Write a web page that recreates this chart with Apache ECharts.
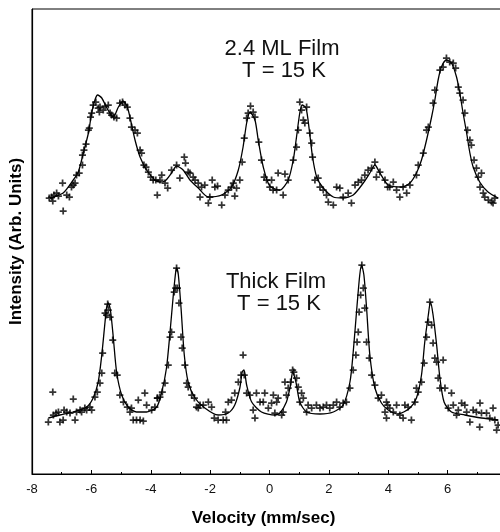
<!DOCTYPE html>
<html>
<head>
<meta charset="utf-8">
<script src="https://cdn.jsdelivr.net/npm/echarts@6/dist/echarts.min.js"></script>
<style>
  html, body { margin: 0; padding: 0; background: #fff; }
  #chart { width: 500px; height: 532px; }
</style>
</head>
<body>
<div id="chart"></div>
<script>
// velocity ticks (mm/sec)
const velTicks = [-8, -6, -4, -2, 0, 2, 4, 6, 8]

// 2.4 ML film, fitted curve [velocity, intensity]
const fitFilm = [
  [-7.39,276],[-6.95,281],[-6.61,294],[-6.44,302],[-6.27,321],[-6.10,341],[-5.99,361],[-5.88,374],
  [-5.79,379],[-5.65,376],[-5.48,366],[-5.26,357],[-5.09,367],[-4.93,373],[-4.79,367],[-4.68,354],
  [-4.53,334],[-4.36,317],[-4.14,304],[-3.86,294],[-3.70,292],[-3.52,293],[-3.30,301],[-3.13,308],
  [-2.91,304],[-2.68,294],[-2.40,286],[-2.06,277],[-1.61,279],[-1.28,287],[-1.05,304],[-0.89,327],
  [-0.77,351],[-0.66,362],[-0.49,354],[-0.38,334],[-0.21,307],[0.01,288],[0.35,284],[0.63,294],
  [0.80,314],[0.91,337],[1.02,361],[1.10,369],[1.23,366],[1.34,344],[1.45,317],[1.59,297],
  [1.81,286],[2.15,277],[2.48,276],[2.82,279],[3.16,291],[3.38,301],[3.55,309],[3.72,301],
  [4.00,289],[4.45,287],[4.73,291],[4.95,301],[5.12,314],[5.29,334],[5.46,357],[5.57,374],
  [5.68,394],[5.79,407],[5.96,414],[6.13,411],[6.30,397],[6.41,381],[6.52,361],[6.64,341],
  [6.75,321],[6.86,307],[7.08,292],[7.36,282],[7.70,276]
]

// 2.4 ML film, measured points
const ptsFilm = [
  [-7.42,276],[-7.34,277],[-7.26,279],[-7.30,273],[-7.17,281],[-7.11,278],[-6.97,291],[-6.95,263],
  [-6.83,279],[-6.74,277],[-6.67,287],[-6.61,289],[-6.55,291],[-6.50,299],[-6.41,301],[-6.30,309],
  [-6.30,319],[-6.25,324],[-6.18,330],[-6.10,344],[-6.07,346],[-6.03,357],[-5.99,361],[-5.94,369],
  [-5.85,372],[-5.77,366],[-5.71,367],[-5.73,362],[-5.60,364],[-5.54,368],[-5.43,369],[-5.37,361],
  [-5.32,359],[-5.24,357],[-5.15,356],[-5.04,371],[-4.95,372],[-4.87,369],[-4.79,367],[-4.70,356],
  [-4.65,347],[-4.53,344],[-4.45,341],[-4.36,324],[-4.31,321],[-4.23,309],[-4.16,307],[-4.08,302],
  [-4.00,297],[-3.92,294],[-3.83,294],[-3.78,279],
  [-3.69,294],[-3.63,299],[-3.52,291],[-3.43,286],[-3.30,304],[-3.13,309],[-3.02,296],[-2.87,317],
  [-2.83,311],[-2.74,302],[-2.68,301],[-2.57,297],[-2.51,294],[-2.40,291],[-2.29,287],[-2.34,277],
  [-2.18,289],[-2.06,271],[-2.01,277],[-1.93,294],[-1.84,287],[-1.75,288],[-1.61,269],[-1.50,279],
  [-1.39,284],[-1.28,287],[-1.22,291],[-1.17,278],[-1.11,286],[-1.00,294],[-0.92,312],[-0.85,336],
  [-0.77,356],[-0.72,361],[-0.64,368],[-0.55,362],[-0.49,357],[-0.36,332],[-0.27,314],[-0.18,297],
  [-0.10,294],[0.01,287],[0.12,284],
  [0.07,294],[0.24,284],[0.29,301],[0.46,279],[0.52,300],[0.63,294],[0.80,314],[0.91,327],
  [0.97,344],[1.02,372],[1.08,364],[1.14,354],[1.25,367],[1.19,351],[1.36,341],[1.42,331],
  [1.45,317],[1.53,294],[1.64,296],[1.70,287],[1.81,284],[1.92,279],[1.98,272],[2.15,269],
  [2.26,287],[2.37,286],[2.48,277],[2.65,281],[2.76,271],[2.88,289],[2.99,292],[3.10,294],
  [3.21,299],[3.32,304],[3.44,306],[3.55,312],[3.60,297],[3.72,302],[3.89,294],[3.98,287],
  [4.05,287],[4.17,292],[4.28,284],[4.39,277],[4.50,287],[4.62,281],[4.73,289],[4.95,299],
  [5.01,309],[5.18,321],[5.29,344],[5.35,347],[5.51,371],[5.57,384],[5.74,404],[5.85,407],
  [5.96,416],[6.07,412],[6.19,411],[6.27,406],[6.36,387],[6.41,381],[6.52,374],[6.58,361],
  [6.67,344],[6.75,334],[6.80,329],[6.89,314],[6.97,306],[7.03,297],[7.14,301],[7.09,287],
  [7.20,281],[7.25,277],[7.37,274],[7.48,272],[7.59,276],[7.53,271]
]

// thick film, fitted curve
const fitThick = [
  [-7.45,56],[-7.06,59],[-6.61,62],[-6.16,67],[-5.94,76],[-5.77,92],[-5.65,119],[-5.54,152],
  [-5.49,166],[-5.43,171],[-5.35,162],[-5.26,136],[-5.15,102],[-4.98,79],[-4.76,67],[-4.48,62],
  [-4.14,62],[-3.80,67],[-3.63,82],[-3.47,106],[-3.35,142],[-3.24,179],[-3.16,202],[-3.13,206],
  [-3.07,199],[-2.98,166],[-2.87,119],[-2.74,92],[-2.51,76],[-2.18,66],[-1.73,59],[-1.39,61],
  [-1.17,69],[-1.00,86],[-0.92,102],[-0.86,104],[-0.77,89],[-0.60,72],[-0.27,62],[0.18,59],
  [0.35,61],[0.57,72],[0.71,89],[0.78,102],[0.89,92],[1.02,72],[1.25,62],[1.70,60],
  [2.15,62],[2.48,69],[2.71,92],[2.82,122],[2.95,169],[3.04,199],[3.10,209],[3.18,199],
  [3.27,166],[3.38,119],[3.55,86],[3.77,71],[4.00,64],[4.33,60],[4.73,66],[4.95,76],
  [5.12,99],[5.23,132],[5.35,159],[5.42,172],[5.51,159],[5.63,129],[5.74,96],[5.88,72],
  [6.13,62],[6.58,59],[7.14,56],[7.70,54]
]

// thick film, measured points
const ptsThick = [
  [-7.45,52],[-7.30,82],[-7.28,59],[-7.19,61],[-7.11,62],[-7.06,52],[-6.95,54],[-6.92,64],
  [-6.83,62],[-6.72,61],[-6.61,75],[-6.55,54],[-6.50,62],[-6.38,64],[-6.33,62],[-6.22,66],
  [-6.16,64],[-6.05,67],[-5.99,64],[-5.88,77],[-5.80,82],[-5.71,91],[-5.65,101],[-5.62,121],
  [-5.54,161],[-5.49,159],[-5.45,170],[-5.43,164],[-5.37,157],[-5.28,134],[-5.21,101],[-5.13,99],
  [-5.04,79],[-4.92,72],[-4.79,67],[-4.70,62],[-4.65,66],[-4.59,54],[-4.48,54],[-4.36,54],
  [-4.25,53],[-4.42,74],[-4.20,81],[-4.14,69],[-3.97,64],[-3.86,67],[-3.78,76],
  [-3.77,76],[-3.69,77],[-3.61,82],[-3.52,91],[-3.41,109],[-3.35,137],[-3.30,142],[-3.21,182],
  [-3.16,186],[-3.13,206],[-3.10,186],[-3.05,171],[-2.98,137],[-2.94,126],[-2.85,109],[-2.79,91],
  [-2.74,87],[-2.62,79],[-2.53,76],[-2.46,67],[-2.34,69],[-2.40,66],[-2.23,69],[-2.06,72],
  [-1.95,67],[-1.86,56],[-1.73,54],[-1.56,54],[-1.45,54],[-1.48,62],[-1.39,72],[-1.28,74],
  [-1.17,81],[-1.05,92],[-0.96,99],[-0.89,119],[-0.85,99],[-0.77,81],[-0.66,79],[-0.55,64],
  [-0.49,56],[-0.44,81],[-0.32,72],[-0.21,72],[-0.16,81],[-0.04,66],[0.13,79],[0.07,71],
  [0.18,61],[0.24,72],[0.29,76],[0.41,59],[0.46,62],[0.52,92],[0.57,79],[0.63,86],
  [0.71,92],[0.78,104],[0.82,102],[0.91,96],[0.97,87],[1.02,72],[1.08,81],[1.14,76],
  [1.25,62],[1.30,69],[1.42,66],[1.58,69],[1.70,66],[1.81,67],[1.92,69],[2.03,66],
  [2.15,69],[2.26,72],[2.37,67],[2.48,71],[2.59,72],[2.71,86],[2.82,104],[2.91,119],
  [2.95,132],[2.99,142],[3.02,162],[3.07,179],[3.11,209],[3.16,186],[3.21,166],[3.27,132],
  [3.36,116],[3.44,99],[3.55,89],[3.66,76],[3.77,79],[3.89,62],[3.94,56],[3.98,69],
  [3.94,72],[4.05,66],[4.17,62],[4.28,69],[4.39,59],[4.50,56],[4.56,69],[4.67,67],
  [4.78,54],[4.90,72],[4.95,86],[5.01,82],[5.12,92],[5.21,111],[5.29,137],[5.35,152],
  [5.40,172],[5.46,149],[5.51,131],[5.57,116],[5.63,112],[5.68,96],[5.74,86],[5.85,114],
  [5.91,86],[6.02,66],[6.13,81],[6.19,69],[6.30,59],[6.36,64],[6.47,71],[6.58,69],
  [6.64,62],[6.75,52],[6.86,64],[6.97,62],[7.09,71],[7.14,61],[7.31,61],[7.42,56],
  [7.53,66],[7.59,54],[7.70,49],[7.08,47],[7.65,44]
]

// "+" marker, arms a quarter of the box thick
const plusSymbol = 'path://M3.75,0H6.25V3.75H10V6.25H6.25V10H3.75V6.25H0V3.75H3.75Z'
const ink = '#000'

let myChart = echarts.init(document.getElementById('chart'))
let option = {
  animation: false,
  backgroundColor: '#fff',
  grid: {
    left: 32,
    right: -7,
    top: 9,
    bottom: 58,
    outerBoundsMode: 'none',
    containLabel: false,
    show: true,
    borderColor: '#000',
    borderWidth: 1
  },
  xAxis: {
    type: 'value',
    min: velTicks[0],
    max: velTicks[velTicks.length - 1],
    interval: 2,
    name: 'Velocity (mm/sec)',
    nameLocation: 'middle',
    nameGap: 36,
    nameTextStyle: {
      fontFamily: 'Liberation Sans',
      fontWeight: 'bold',
      fontSize: 17,
      color: '#000',
      padding: [0, 12, 0, 0]
    },
    axisLine: { show: true, onZero: false, lineStyle: { color: '#000', width: 1.2 } },
    axisTick: { show: true, inside: true, length: 4, lineStyle: { color: '#000' } },
    minorTick: { show: true, splitNumber: 2, length: 2, lineStyle: { color: '#000' } },
    splitLine: { show: false },
    axisLabel: {
      fontFamily: 'Liberation Sans',
      fontSize: 13,
      color: '#111',
      margin: 9,
      showMaxLabel: true
    }
  },
  yAxis: {
    type: 'value',
    min: 0,
    max: 465,
    name: 'Intensity (Arb. Units)',
    nameLocation: 'middle',
    nameGap: 7,
    nameTextStyle: {
      fontFamily: 'Liberation Sans',
      fontWeight: 'bold',
      fontSize: 17,
      color: '#000'
    },
    axisLine: { show: true, onZero: false, lineStyle: { color: '#000', width: 1.2 } },
    axisTick: { show: false },
    axisLabel: { show: false },
    splitLine: { show: false }
  },
  graphic: [
    { type: 'text', x: 282, y: 49, style: { text: '2.4 ML Film', font: '22px "Liberation Sans"', fill: '#111', align: 'center', verticalAlign: 'middle' } },
    { type: 'text', x: 284, y: 71, style: { text: 'T = 15 K', font: '22px "Liberation Sans"', fill: '#111', align: 'center', verticalAlign: 'middle' } },
    { type: 'text', x: 276, y: 282, style: { text: 'Thick Film', font: '22px "Liberation Sans"', fill: '#111', align: 'center', verticalAlign: 'middle' } },
    { type: 'text', x: 279, y: 304, style: { text: 'T = 15 K', font: '22px "Liberation Sans"', fill: '#111', align: 'center', verticalAlign: 'middle' } }
  ],
  series: [
    {
      name: 'film fit',
      type: 'line',
      data: fitFilm,
      smooth: 0.25,
      showSymbol: false,
      lineStyle: { color: ink, width: 1.3 }
    },
    {
      name: 'film data',
      type: 'scatter',
      data: ptsFilm,
      symbol: plusSymbol,
      symbolSize: 7,
      itemStyle: { color: ink }
    },
    {
      name: 'thick fit',
      type: 'line',
      data: fitThick,
      smooth: 0.25,
      showSymbol: false,
      lineStyle: { color: ink, width: 1.3 }
    },
    {
      name: 'thick data',
      type: 'scatter',
      data: ptsThick,
      symbol: plusSymbol,
      symbolSize: 7,
      itemStyle: { color: ink }
    }
  ]
}
myChart.setOption(option)
</script>
</body>
</html>
